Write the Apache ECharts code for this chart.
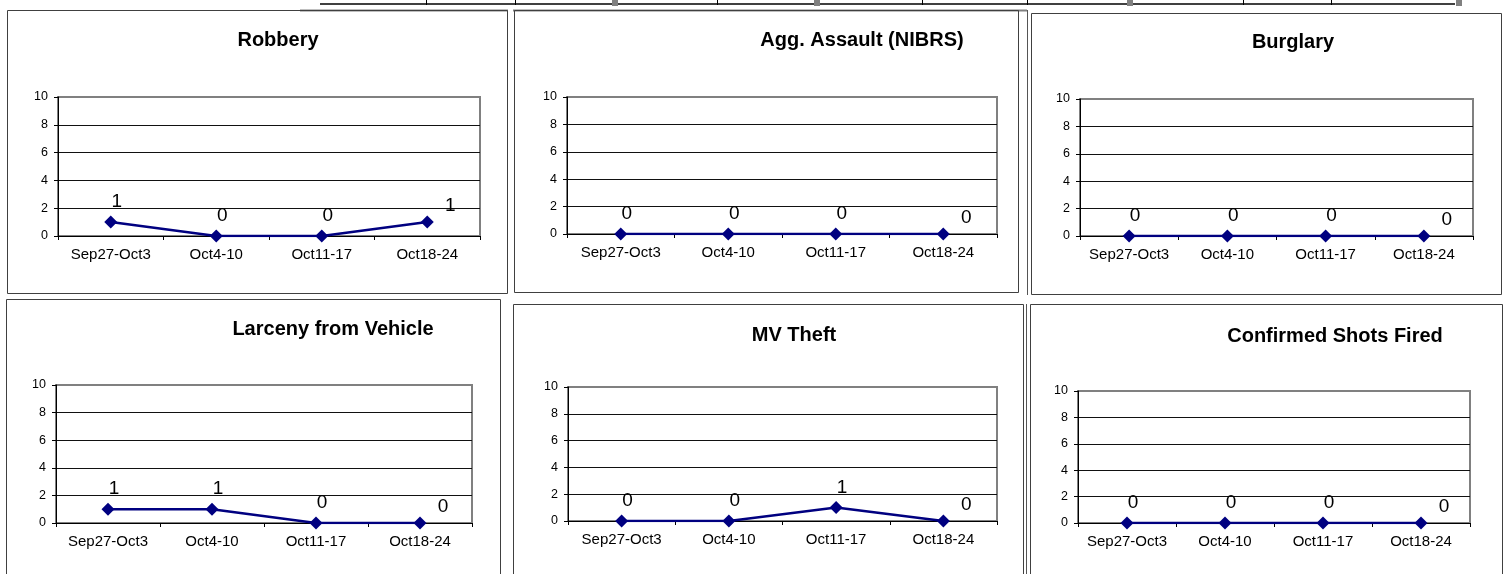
<!DOCTYPE html>
<html>
<head>
<meta charset="utf-8">
<script src="https://cdn.jsdelivr.net/npm/echarts@6/dist/echarts.min.js"></script>
<style>
html,body{margin:0;padding:0;background:#fff;}
#c{width:1504px;height:574px;}
</style>
</head>
<body>
<div id="c"></div>
<script>
// ---- data ----
const categories = ['Sep27-Oct3', 'Oct4-10', 'Oct11-17', 'Oct18-24'];
const chartTitles = ['Robbery', 'Agg. Assault (NIBRS)', 'Burglary', 'Larceny from Vehicle', 'MV Theft', 'Confirmed Shots Fired'];
const robbery = [1, 0, 0, 1];
const aggAssault = [0, 0, 0, 0];
const burglary = [0, 0, 0, 0];
const larcenyFromVehicle = [1, 1, 0, 0];
const mvTheft = [0, 0, 1, 0];
const shotsFired = [0, 0, 0, 0];
const yMin = 0, yMax = 10, yStep = 2;

const seriesValues = [robbery, aggAssault, burglary, larcenyFromVehicle, mvTheft, shotsFired];

// ---- layout ----
const grids = [
  {left: 58,   top: 97,  width: 422, height: 139},
  {left: 567,  top: 97,  width: 430, height: 137},
  {left: 1080, top: 99,  width: 393, height: 137},
  {left: 56,   top: 385, width: 416, height: 138},
  {left: 568,  top: 387, width: 429, height: 134},
  {left: 1078, top: 391, width: 392, height: 132}
];
const titlePos = [[278, 30], [862, 30], [1293, 32], [333, 319], [794, 325], [1335, 326]];
const panels = [
  [7, 10, 500, 283], [514, 10, 504, 282], [1031, 13, 470, 281],
  [6, 299, 494, 300], [513, 304, 510, 300], [1030, 304, 472, 300]
];

const FONT = '"Liberation Sans", Arial, sans-serif';
const navy = '#000080';

const option = {
  animation: false,
  backgroundColor: '#fff',
  title: chartTitles.map((t, i) => ({
    text: t, left: titlePos[i][0], top: titlePos[i][1], textAlign: 'center', padding: 0,
    textStyle: {fontFamily: FONT, fontSize: 20, fontWeight: 'bold', color: '#000'}
  })),
  grid: grids.map(g => Object.assign({show: true, borderColor: '#808080', borderWidth: 2, backgroundColor: '#fff'}, g)),
  xAxis: grids.map((g, i) => ({
    type: 'category', gridIndex: i, data: categories, boundaryGap: true,
    axisLine: {lineStyle: {color: '#000', width: 1}},
    axisTick: {show: true, length: 4, inside: false, lineStyle: {color: '#000'}},
    axisLabel: {fontFamily: FONT, fontSize: 15, color: '#000', margin: 11, interval: 0},
    splitLine: {show: false}
  })),
  yAxis: grids.map((g, i) => ({
    type: 'value', gridIndex: i, min: yMin, max: yMax, interval: yStep,
    axisLine: {show: true, lineStyle: {color: '#000', width: 1}},
    axisTick: {show: true, length: 4, lineStyle: {color: '#000'}},
    axisLabel: {fontFamily: FONT, fontSize: 12.5, color: '#000', margin: 10},
    splitLine: {show: true, lineStyle: {color: ['#000', '#111', '#111', '#111', '#111', '#808080'], width: 1}}
  })),
  series: seriesValues.map((vals, i) => ({
    type: 'line', xAxisIndex: i, yAxisIndex: i,
    data: vals.map((v, k) => ({
      value: v,
      label: k === vals.length - 1 ? {offset: [23, 4]} : {offset: [6, 0]}
    })),
    symbol: 'diamond', symbolSize: 13,
    lineStyle: {color: navy, width: 2.5},
    itemStyle: {color: navy},
    label: {show: true, position: 'top', distance: 4, fontFamily: FONT, fontSize: 19, color: '#000'}
  })),
  graphic: [
    // top table fragment
    {type: 'line', shape: {x1: 320, y1: 4, x2: 1455, y2: 4}, style: {stroke: '#000', lineWidth: 1.5}},
    ...[426, 515, 717, 922, 1027, 1243, 1331].map(x => ({type: 'line', shape: {x1: x + 0.5, y1: 0, x2: x + 0.5, y2: 5}, style: {stroke: '#000', lineWidth: 1}})),
    ...[612, 814, 1127, 1456].map(x => ({type: 'rect', shape: {x: x, y: 0, width: 6, height: 6}, style: {fill: '#808080'}})),
    // grey cell borders
    {type: 'line', shape: {x1: 300, y1: 10.5, x2: 508, y2: 10.5}, style: {stroke: '#808080', lineWidth: 2}},
    {type: 'line', shape: {x1: 513, y1: 10.5, x2: 1027, y2: 10.5}, style: {stroke: '#808080', lineWidth: 2}},
    {type: 'line', shape: {x1: 1027.5, y1: 10, x2: 1027.5, y2: 295}, style: {stroke: '#555', lineWidth: 1}},
    {type: 'line', shape: {x1: 1026.5, y1: 304, x2: 1026.5, y2: 574}, style: {stroke: '#555', lineWidth: 1}},
    // panel frames
    ...panels.map(p => ({type: 'rect', shape: {x: p[0] + 0.5, y: p[1] + 0.5, width: p[2], height: p[3]}, style: {fill: null, stroke: '#404040', lineWidth: 1}, z: 10}))
  ]
};

const chart = echarts.init(document.getElementById('c'), null, {renderer: 'canvas'});
chart.setOption(option);
</script>
</body>
</html>
